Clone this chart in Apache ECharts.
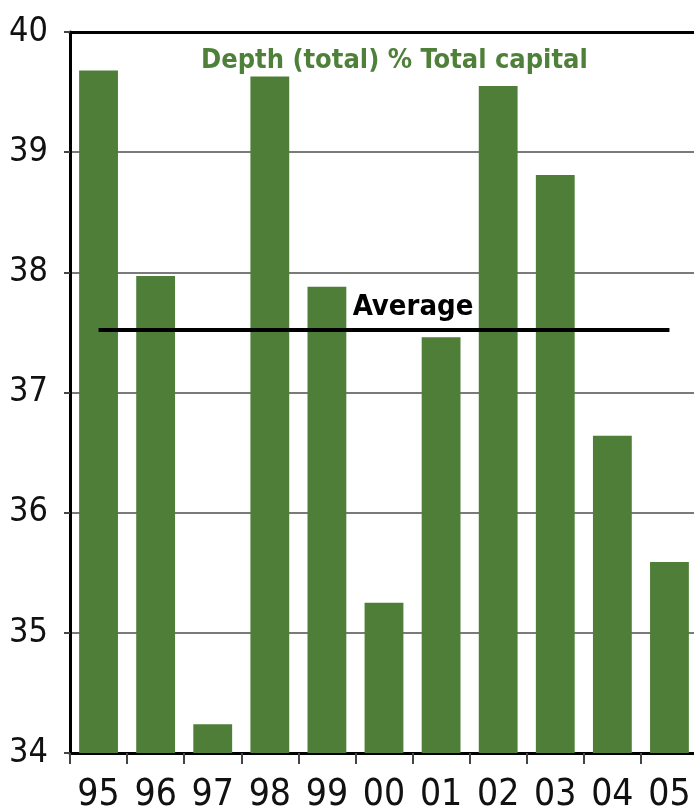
<!DOCTYPE html>
<html>
<head>
<meta charset="utf-8">
<script src="https://cdn.jsdelivr.net/npm/echarts@6/dist/echarts.min.js"></script>
<style>
html,body{margin:0;padding:0;background:#fff;overflow:hidden;width:694px;height:809px;}
#chart{width:698px;height:809px;}
</style>
</head>
<body>
<div id="chart"></div>
<script>
const categories = ['95','96','97','98','99','00','01','02','03','04','05'];
const depthValues = [39.68, 37.97, 34.24, 39.63, 37.88, 35.25, 37.46, 39.55, 38.81, 36.64, 35.59];
const averageValue = 37.52;
const yTicks = [34, 35, 36, 37, 38, 39, 40];
const titleText = 'Depth (total) % Total capital';
const averageLabel = 'Average';

const FONT = "'Liberation Sans Narrow', 'DejaVu Sans Condensed', sans-serif";
const GREEN = '#4e7e37';

const chart = echarts.init(document.getElementById('chart'), null, {renderer: 'canvas'});
chart.setOption({
  animation: false,
  backgroundColor: '#fff',
  title: {
    text: titleText,
    left: 196,
    top: 42,
    textStyle: {color: '#4f8039', fontFamily: FONT, fontWeight: 'bold', fontSize: 27}
  },
  grid: {left: 70, right: 0, top: 32, bottom: 56, containLabel: false, outerBoundsMode: 'none'},
  xAxis: [{
    type: 'category',
    data: categories,
    position: 'bottom',
    axisLine: {show: true, lineStyle: {color: '#000', width: 3}},
    axisTick: {show: true, alignWithLabel: false, length: 11, lineStyle: {color: '#444', width: 2}},
    axisLabel: {color: '#111', fontFamily: FONT, fontSize: 37, margin: 24, interval: 0},
    splitLine: {show: false}
  }, {
    type: 'category',
    data: categories,
    position: 'top',
    axisLine: {show: true, lineStyle: {color: '#000', width: 3}},
    axisTick: {show: false},
    axisLabel: {show: false}
  }],
  yAxis: {
    type: 'value',
    min: yTicks[0],
    max: yTicks[yTicks.length - 1],
    interval: 1,
    axisLine: {show: true, lineStyle: {color: '#000', width: 3}},
    axisTick: {show: true, length: 6, lineStyle: {color: '#444', width: 2}},
    axisLabel: {color: '#111', fontFamily: FONT, fontSize: 34, margin: 22},
    splitLine: {show: true, lineStyle: {color: '#7a7a7a', width: 2}}
  },
  series: [{
    type: 'bar',
    data: depthValues,
    barWidth: '68%',
    itemStyle: {color: GREEN},
    z: 3,
    markLine: {
      symbol: ['none', 'none'],
      silent: true,
      z: 5,
      lineStyle: {color: '#000', width: 4, type: 'solid'},
      label: {
        show: true,
        position: 'insideMiddleTop',
        formatter: averageLabel,
        color: '#000',
        fontFamily: FONT,
        fontWeight: 'bold',
        fontSize: 29,
        distance: 8,
        offset: [29, 0]
      },
      data: [[{coord: [categories[0], averageValue]}, {coord: [categories[categories.length - 1], averageValue]}]]
    }
  }]
});
</script>
</body>
</html>
